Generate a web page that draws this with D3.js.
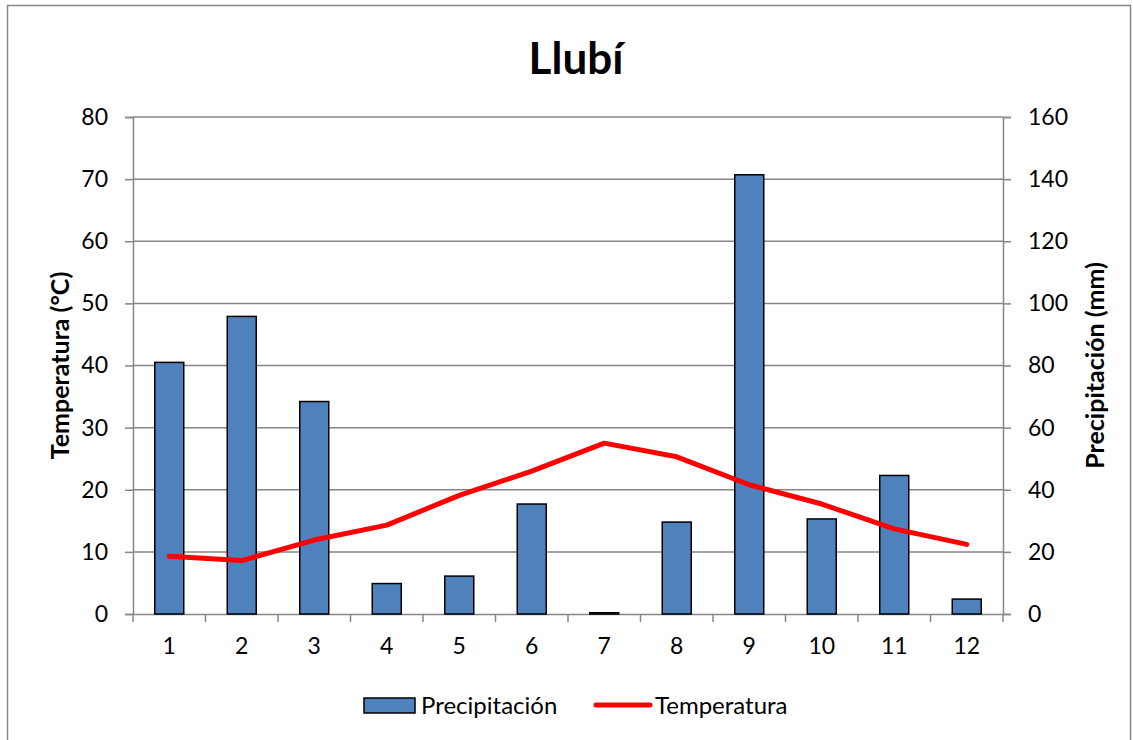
<!DOCTYPE html>
<html>
<head>
<meta charset="utf-8">
<script src="https://cdn.jsdelivr.net/npm/d3@7"></script>
<style>
  body { margin: 0; background: #fff; }
  svg { font-family: Lato, "Open Sans", sans-serif; }
</style>
</head>
<body>
<div id="chart"></div>
<script>
// Llubí - climograma

const months = ['1', '2', '3', '4', '5', '6', '7', '8', '9', '10', '11', '12'];
const precipitacion = [81, 95.8, 68.4, 9.8, 12.2, 35.4, 0.4, 29.6, 141.4, 30.6, 44.6, 4.8];
const temperatura = [9.3, 8.6, 11.9, 14.3, 19.1, 23.0, 27.5, 25.3, 20.8, 17.7, 13.7, 11.2];
const tempTicks = [0, 10, 20, 30, 40, 50, 60, 70, 80];
const precTicks = [0, 20, 40, 60, 80, 100, 120, 140, 160];

const width = 1133, height = 740;
const margin = { top: 117, right: 130, bottom: 126, left: 133 };
const plotW = width - margin.left - margin.right;
const plotH = height - margin.top - margin.bottom;

const svg = d3.select('#chart').append('svg')
    .attr('width', width)
    .attr('height', height);

// marco exterior
svg.append('rect')
    .attr('x', 7.5).attr('y', 5.5)
    .attr('width', 1123).attr('height', 760)
    .style('fill', 'none')
    .style('stroke', '#868686')
    .style('stroke-width', 1.5);

const g = svg.append('g')
    .attr('transform', `translate(${margin.left},${margin.top})`);

const x = d3.scaleBand().domain(months).range([0, plotW]);
const yT = d3.scaleLinear().domain([0, 80]).range([plotH, 0]);
const yP = d3.scaleLinear().domain([0, 160]).range([plotH, 0]);

// rejilla
g.selectAll('.grid').data(tempTicks.slice(1))
    .enter().append('line')
    .attr('class', 'grid')
    .attr('x1', 0).attr('x2', plotW)
    .attr('y1', d => yT(d)).attr('y2', d => yT(d))
    .style('stroke', '#868686')
    .style('stroke-width', 1.5);

// ejes
const axisL = g.append('g')
    .call(d3.axisLeft(yT).tickValues(tempTicks).tickSize(8).tickPadding(17));
const axisR = g.append('g')
    .attr('transform', `translate(${plotW},0)`)
    .call(d3.axisRight(yP).tickValues(precTicks).tickSize(8).tickPadding(17));
const axisB = g.append('g')
    .attr('transform', `translate(0,${plotH})`)
    .call(d3.axisBottom(x).tickSize(0).tickPadding(24));

// marcas entre categorías
g.selectAll('.btick').data(d3.range(13))
    .enter().append('line')
    .attr('class', 'btick')
    .attr('x1', d => d * x.step()).attr('x2', d => d * x.step())
    .attr('y1', plotH).attr('y2', plotH + 8)
    .style('stroke', '#868686')
    .style('stroke-width', 1.5);

[axisL, axisR, axisB].forEach(a => {
    a.selectAll('path, line').style('stroke', '#868686').style('stroke-width', 1.5);
    a.selectAll('text').style('font-size', '23px').style('fill', '#000')
        .style('font-family', 'Lato, "Open Sans", sans-serif');
});

// barras de precipitación
const barW = x.bandwidth() * 0.4;
g.selectAll('.bar').data(precipitacion)
    .enter().append('rect')
    .attr('class', 'bar')
    .attr('x', (d, i) => x(months[i]) + (x.bandwidth() - barW) / 2)
    .attr('y', d => yP(d))
    .attr('width', barW)
    .attr('height', d => plotH - yP(d))
    .style('fill', '#4F81BD')
    .style('stroke', '#000')
    .style('stroke-width', 1.5);

// línea de temperatura
const line = d3.line()
    .x((d, i) => x(months[i]) + x.bandwidth() / 2)
    .y(d => yT(d));

g.append('path')
    .datum(temperatura)
    .attr('d', line)
    .style('fill', 'none')
    .style('stroke', '#FF0000')
    .style('stroke-width', 5)
    .style('stroke-linecap', 'round')
    .style('stroke-linejoin', 'round');

// título
svg.append('text')
    .attr('x', 576).attr('y', 74)
    .attr('text-anchor', 'middle')
    .style('font-size', '44px')
    .style('font-weight', 'bold')
    .text('Llubí');

// títulos de ejes
svg.append('text')
    .attr('transform', `translate(69,${margin.top + plotH / 2}) rotate(-90)`)
    .attr('text-anchor', 'middle')
    .style('font-size', '25px')
    .style('font-weight', 'bold')
    .text('Temperatura (°C)');

svg.append('text')
    .attr('transform', `translate(1104,${margin.top + plotH / 2}) rotate(-90)`)
    .attr('text-anchor', 'middle')
    .style('font-size', '25px')
    .style('font-weight', 'bold')
    .text('Precipitación (mm)');

// leyenda
const leg = svg.append('g');
leg.append('rect')
    .attr('x', 364).attr('y', 698)
    .attr('width', 51).attr('height', 15)
    .style('fill', '#4F81BD')
    .style('stroke', '#000')
    .style('stroke-width', 1.5);
leg.append('text')
    .attr('x', 421).attr('y', 714)
    .style('font-size', '24px')
    .text('Precipitación');
leg.append('line')
    .attr('x1', 596).attr('x2', 650)
    .attr('y1', 705).attr('y2', 705)
    .style('stroke', '#FF0000')
    .style('stroke-width', 5)
    .style('stroke-linecap', 'round');
leg.append('text')
    .attr('x', 655).attr('y', 714)
    .style('font-size', '24px')
    .text('Temperatura');
</script>
</body>
</html>
